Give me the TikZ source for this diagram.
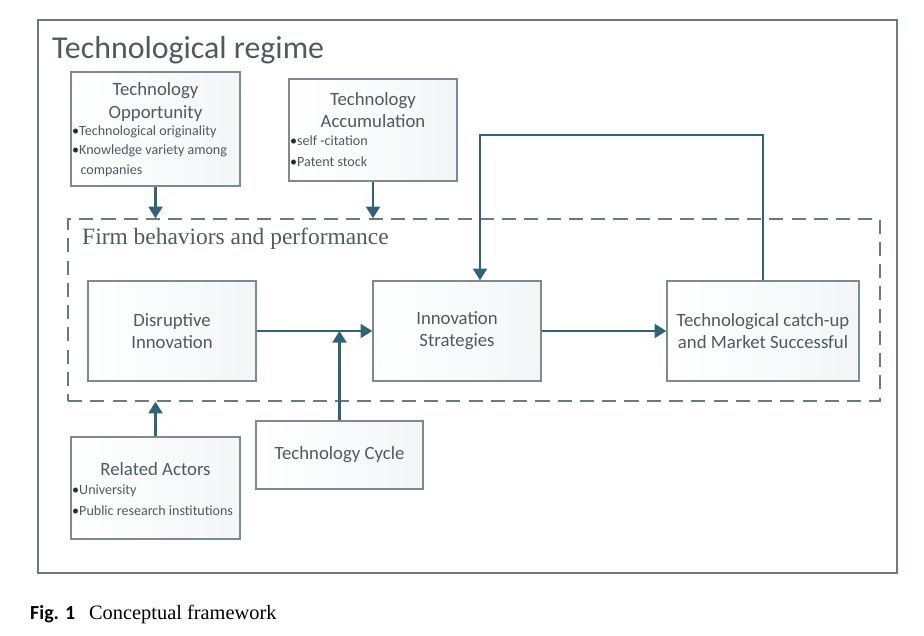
\documentclass[tikz,border=0pt]{standalone}
\usepackage{fontspec}
\setmainfont{Carlito}
\newfontfamily\serifont{Liberation Serif}
\usetikzlibrary{arrows.meta, positioning}
\definecolor{linkblue}{RGB}{47, 100, 120}
\definecolor{boxgray}{RGB}{125, 138, 145}
\definecolor{framegray}{RGB}{110, 120, 125}
\definecolor{labelgray}{RGB}{78, 90, 98}
\definecolor{shadegray}{RGB}{243, 246, 247}
\newcommand{\blt}{\textcolor{labelgray!50!black}{\textbullet}}

\begin{document}
\begin{tikzpicture}[
    font=\fontsize{16}{19}\selectfont,
    text=labelgray,
    box/.style={
        draw=boxgray,
        line width=1.2pt,
        rectangle,
        left color=white,
        right color=shadegray,
        align=center
    },
    heading/.style={
        align=center,
        inner sep=0pt,
        font=\fontsize{16}{18.8}\selectfont
    },
    bullets/.style={
        align=left,
        inner sep=0pt,
        anchor=west,
        font=\fontsize{12}{16.6}\selectfont
    },
    arrow/.style={-{Triangle[width=12pt, length=10pt]}, line width=1.8pt, color=linkblue}
]
    \useasboundingbox (0,0) rectangle (27.72,19.05);

    % Frame
    \node[draw=framegray, line width=1.2pt, minimum width=25.77cm, minimum height=16.59cm] (regime) at (14.025,10.155) {};
    \node[anchor=west, inner sep=0pt, font=\fontsize{27.2}{30}\selectfont] (title) at (1.56,17.55) {Technological regime};

    % Nodes
    \node[box, minimum width=5.07cm, minimum height=3.42cm] (opp) at (4.665,15.18) {};
    \node[heading] (opp_head) at (4.665,15.99) {Technology\\Opportunity};
    \node[bullets] (opp_list) at (2.16,14.52) {\blt Technological originality\\\blt Knowledge variety among\\\hspace{0.25cm}companies};

    \node[box, minimum width=5.04cm, minimum height=3.06cm] (acc) at (11.19,15.15) {};
    \node[heading] (acc_head) at (11.19,15.75) {Technology\\Accumulation};
    \node[bullets, font=\fontsize{12}{18}\selectfont] (acc_list) at (8.70,14.52) {\blt self -citation\\\blt Patent stock};

    \node[draw=framegray, line width=1.2pt, dash pattern=on 12pt off 7pt, minimum width=24.36cm, minimum height=5.46cm] (firm) at (14.22,9.75) {};
    \node[anchor=west, inner sep=0pt, font=\serifont\fontsize{20}{24}\selectfont] (firm_title) at (2.46,11.88) {Firm behaviors and performance};

    \node[box, minimum width=5.04cm, minimum height=3cm] (disrupt) at (5.16,9.12) {Disruptive\\Innovation};
    \node[box, minimum width=5.04cm, minimum height=3cm] (strat) at (13.71,9.12) {Innovation\\Strategies};
    \node[box, minimum width=5.76cm, minimum height=3cm] (catchup) at (22.89,9.12) {Technological catch-up\\and Market Successful};
    \node[box, minimum width=5.01cm, minimum height=2.04cm] (cycle) at (10.185,5.4) {Technology Cycle};

    \node[box, minimum width=5.07cm, minimum height=3.06cm] (actors) at (4.665,4.41) {};
    \node[heading] (actors_head) at (4.665,4.98) {Related Actors};
    \node[bullets, font=\fontsize{12}{18}\selectfont] (actors_list) at (2.16,4.05) {\blt University\\\blt Public research institutions};

    \coordinate (loop) at (14.4,15.0);

    \node[anchor=west, inner sep=0pt, text=black] (caption) at (0.9,0.63) {{\fontsize{17}{20}\selectfont\bfseries Fig. 1}\hspace{0.42cm}{\serifont\fontsize{17.4}{20}\selectfont Conceptual framework}};

    % Edges
    \draw[arrow] (opp.south) -- (opp.south |- firm.north);
    \draw[arrow] (acc.south) -- (acc.south |- firm.north);
    \draw[arrow] (actors.north) -- (actors.north |- firm.south);
    \draw[arrow] (disrupt) -- (strat);
    \draw[arrow] (cycle.north) -- (cycle.north |- disrupt.east);
    \draw[arrow] (strat) -- (catchup);
    \draw[arrow] (catchup.north) |- (loop) -- (loop |- strat.north);

\end{tikzpicture}
\end{document}
